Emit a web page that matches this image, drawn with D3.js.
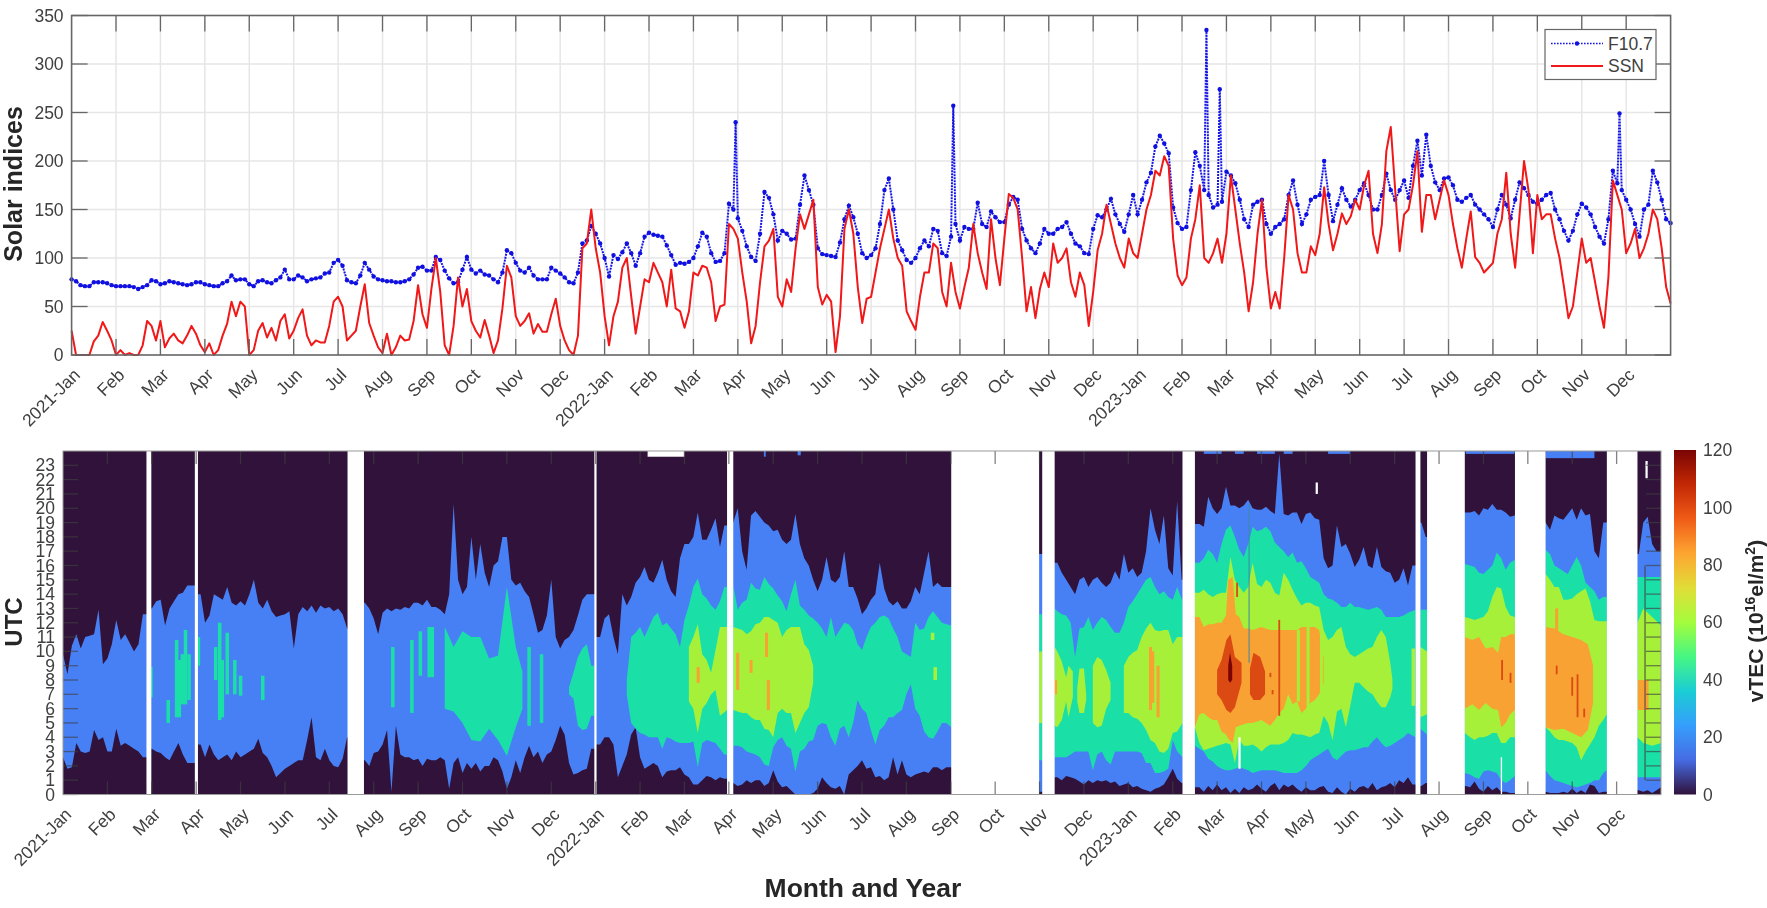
<!DOCTYPE html>
<html>
<head>
<meta charset="utf-8">
<script src="https://cdn.jsdelivr.net/npm/d3@7"></script>
<style>
body { margin: 0; background: #fff; }
svg { filter: blur(0.45px); }
text { font-family: "Liberation Sans", Arial, sans-serif; }
</style>
</head>
<body>
<svg id="chart" width="1767" height="908"></svg>
<script>
var monthLabels = ['2021-Jan','Feb','Mar','Apr','May','Jun','Jul','Aug','Sep','Oct','Nov','Dec',
	'2022-Jan','Feb','Mar','Apr','May','Jun','Jul','Aug','Sep','Oct','Nov','Dec',
	'2023-Jan','Feb','Mar','Apr','May','Jun','Jul','Aug','Sep','Oct','Nov','Dec'];
var solarTicks = [0,50,100,150,200,250,300,350];
var utcTicks = d3.range(0,24);
var vtecTicks = [0,20,40,60,80,100,120];

var f107 = [
78,76,72,71,71,75,75,75,74,72,
71,71,71,71,70,68,70,72,77,76,
73,74,76,75,74,73,72,73,75,75,
73,72,71,71,74,76,82,77,78,78,
73,71,76,77,75,74,77,80,88,78,
78,82,80,76,78,79,80,84,85,95,
98,92,77,75,74,82,95,88,81,78,
77,76,76,75,75,76,78,83,90,91,
87,87,101,98,87,79,74,75,88,101,
88,84,87,83,82,78,75,85,108,105,
95,87,85,90,82,78,78,78,90,87,
84,80,75,74,85,115,118,133,125,115,
100,81,103,99,106,115,105,92,105,122,
126,124,123,122,113,103,93,95,94,96,
100,112,126,122,105,96,97,105,156,150,
141,128,112,101,97,125,168,162,145,118,
128,125,119,120,155,185,170,155,110,104,
103,102,101,116,140,154,142,125,105,100,
103,110,135,170,182,150,118,108,98,95,
100,110,118,112,130,128,105,102,122,135,
118,132,130,130,157,135,132,148,142,137,
137,155,163,160,130,118,110,105,115,130,
125,125,130,132,137,125,115,112,105,104,
130,144,142,150,161,145,135,127,145,165,
145,160,178,188,215,226,218,208,152,136,
130,132,170,209,195,170,165,152,155,158,
189,185,177,160,140,132,155,158,160,135,
125,132,135,140,165,180,155,135,145,160,
163,165,200,165,138,155,172,160,153,160,
170,177,165,150,150,165,187,170,160,170,
180,162,195,221,185,227,195,178,170,182,
183,175,160,158,162,165,155,150,145,140,
132,150,165,155,141,160,178,172,165,158,
156,160,165,167,150,140,128,118,128,145,
156,152,145,132,122,115,140,190,177,170,
160,150,135,122,150,155,190,178,160,140,136];
var f107Spikes = [[14.95,240],[19.85,257],[25.55,335],[25.85,274],[34.85,249]];

var ssn = [
25,0,0,0,0,14,20,34,25,15,
0,5,0,2,0,0,10,35,30,15,
35,8,17,22,15,12,20,30,22,10,
3,12,0,5,20,32,55,40,55,50,
0,5,25,33,18,28,15,35,42,17,
25,38,47,20,10,15,13,13,30,55,
60,50,15,20,25,50,73,33,20,8,
2,22,0,8,20,15,16,35,72,42,
28,68,100,65,10,0,30,80,50,68,
35,25,18,36,20,2,15,48,92,80,
40,30,35,43,22,32,24,24,42,58,
30,15,5,0,20,110,115,150,110,85,
40,10,40,55,90,100,60,22,50,78,
75,95,85,75,50,88,48,45,28,45,
85,82,92,90,75,35,50,52,135,130,
120,85,55,12,30,75,112,118,130,60,
50,78,65,110,145,130,145,160,70,52,
62,55,3,40,130,150,125,70,33,58,
60,85,110,130,150,120,100,92,45,35,
26,60,85,85,115,110,65,50,95,65,
48,70,90,135,105,85,68,140,100,72,
120,166,162,150,100,45,70,38,68,85,
70,115,95,100,110,75,60,85,72,30,
65,108,125,155,135,115,100,90,120,105,
100,125,150,165,190,185,205,195,120,82,
72,80,120,140,175,100,95,105,120,95,
125,185,150,115,85,45,75,125,160,90,
48,65,48,100,165,150,105,85,85,112,
103,125,173,135,108,125,146,135,143,160,
150,175,190,125,105,135,210,235,170,107,
145,150,175,210,127,165,165,140,160,180,
165,135,110,90,120,148,101,95,85,90,
95,125,140,188,125,90,145,200,170,105,
165,140,145,145,120,100,70,38,50,85,
120,95,100,75,50,28,80,180,165,150,
105,115,130,100,110,125,150,140,110,70,53];

// upper and lower hour of the first contour, same tenths of a month
var blueHi = [
9.8,8.4,10.4,11.2,10.2,11,11.1,11.2,12.9,9.1,
9.5,10.5,12.2,10.8,11.2,10.6,10,10.5,12.6,null,
13,13.5,13.6,11.8,13,13.5,14,14.1,14.6,14.6,
null,14,12,12.5,14,13.8,13.6,14.5,13.4,13.2,
13.5,13.2,14,15,13.4,13,13.6,12.8,12.4,12.5,
12.6,12.8,10.2,12.6,13.1,12.8,13.2,12.7,13.2,13,
13.1,12.8,13,12.6,11.6,null,null,null,13.4,13,
12.3,11.2,12.7,13,12.8,13,12.9,13.1,13,13.4,
13.4,13.2,13.6,13.1,13.1,12.9,12.6,14,20.3,15,
14,14.5,18,15,17.5,15.5,14.5,16,16.3,18,
18,15,14.6,14.8,14.2,13.8,12.6,11.3,11.5,12.5,
15,11,10.2,10.8,11,11.5,12.5,13.6,14,14,
null,11,12.3,12.6,11,9.8,14,13.2,13.8,14.8,
15.2,15.9,15,14.8,15.5,16.4,15,14.2,13.8,16.5,
17.5,17.5,18,19.7,17.8,17.8,18.5,19.3,17.3,18.8,
null,19,20,17,15.7,19.5,19.8,19.4,19,18.8,
18.4,18.5,17.8,17.5,17.8,19.6,17.5,16.5,16,15,
14.2,15,16.6,15,14.8,15.2,17,14.5,14.5,13.7,
12.6,13,13.6,14,16.2,14.4,13.5,13.2,13.5,13,
13,13.5,14.5,14,15.5,17,14.5,14.8,14.5,14.5,
14.5,null,null,null,null,null,null,null,null,null,
null,null,null,null,null,null,null,null,null,null,
16.8,null,null,null,16.2,15.5,15,14.5,14,15,
15.2,14.5,15,15.2,14.8,14.5,14.8,15.6,15,16.8,
15.5,15.8,15.2,15.5,17,20,18.5,17.5,19.5,15.8,
15.3,20.5,15,null,null,null,18.9,18.7,20.8,20,
19.6,20,21.5,20.2,20.2,20,20.2,20.6,20,19.9,
19.9,20.1,19.8,19.6,23.8,19.6,19.5,19.7,19.7,18.9,
19.6,19.7,19.3,19.2,16.5,15.8,16,18.8,17.3,17.5,
16.8,15.9,16.4,17.3,16,15.8,17.3,15.9,15.6,15.5,
14.8,15,15.8,14.6,16,null,19,18,null,null,
null,null,null,null,null,null,19.7,19.7,19.8,19.5,
20,19.9,20.3,19.9,19.9,19.7,19.4,19.5,null,null,
null,null,null,null,19,18.5,19.5,19.3,19.2,19.6,
20,19.2,20,19.5,19.6,17,16.5,19,null,null,
null,null,null,null,null,16.8,19,19.4,17.5,17,17];
var blueLo = [
2.6,1.8,1.9,3.6,3,2.9,3,4.5,3.8,4,
3,3,4.6,3.4,3.6,3.4,3.2,3,2.6,null,
3.2,3,2.9,2.6,2.4,3,3.6,2.8,2.2,2.2,
null,3.5,2.6,3.5,2.8,2.4,2.6,2.8,2.4,3,
2.6,2.8,3,3.2,3.9,2.9,2.6,2,1.2,1.5,
1.8,2,2.2,2.4,2.4,3.8,5.4,2.6,2.4,3.2,
2.4,2,1.9,2.5,4,null,null,null,2.4,2,
2.9,3,3.5,4.5,.2,4.8,2.8,2.6,2.6,2.4,
2.5,2,2.5,2.4,2.4,2.6,2.4,.4,2.2,2.6,
1.5,2.2,1.8,2.2,1.6,2,2,2.6,2.4,1.6,
.4,1.2,2.4,1.5,2.6,3.4,2.6,3,2.2,2.8,
3,3.8,4.8,4.2,2.2,1.4,1.5,1.7,1.8,3.2,
null,3.5,4,4,3.5,1.2,2,2.8,4.2,4.7,
2.6,1.8,2,2.2,2,1.2,1.6,1.7,1.7,1.9,
1.4,1.2,.7,.7,1,1.3,1.2,1,1.2,1.1,
null,.8,.6,.7,1,.8,1,1,.6,.8,
1.7,.9,.5,.6,.3,0,0,0,0,.1,
.4,1.2,.8,.5,.4,.6,0,1.4,1.7,2,
2.4,1.8,1.9,1.2,1.3,1,1.2,2.6,1.4,2.4,
1.4,1.2,1.4,1.5,1.6,1.5,1.9,1.9,1.7,1.9,
1.9,null,null,null,null,null,null,null,null,null,
null,null,null,null,null,null,null,null,null,null,
.2,null,null,null,1.2,1,1.3,1.2,1.1,.9,
.7,1,.8,1,.9,1,.8,.9,.6,.7,
.8,.5,.6,.4,.3,.2,.4,.5,.7,1.2,
1.8,1.1,.8,null,null,null,.5,.2,.6,.3,
.7,.3,.5,.1,.4,.1,.5,.3,.4,.7,
.4,.2,.6,.8,.3,.7,.5,.7,.4,.2,
.5,.3,.3,.5,.6,.2,.1,.5,.2,0,
.4,.2,.5,.6,.4,.8,.3,.5,.6,.8,
.5,1,.8,1.2,.7,null,.6,.8,null,null,
null,null,null,null,null,null,.6,.5,.9,.4,
.2,.6,.3,.5,.2,.2,.1,.1,null,null,
null,null,null,null,.2,.1,.1,.1,.2,.1,
.4,.1,.3,.1,.7,.6,.1,.2,null,null,
null,null,null,null,null,.3,.2,.3,.1,.3,.5];

// higher contours as [month, upper hour, lower hour], null starts a new piece
var tealRows = [
[8.6,11.7,6],[8.8,10.3,5.8],[9,11.4,5],[9.2,11,3.8],[9.4,11,3.7],[9.6,9.5,4.6],[9.8,9.7,3.8],[10,14.5,2.7],[10.2,10.3,4.7],[10.35,8.6,6],null,
[11.4,7.5,7],[11.5,8.5,6.7],[11.6,9.6,4.8],[11.7,10.2,4.5],[11.8,10.5,4.6],[11.9,9,5.5],[11.97,9,5.5],null,
[12.7,8,7],[12.8,11,5],[12.9,11.3,4.6],[13,11.7,4.3],[13.1,11,4.2],[13.2,11.7,4],[13.3,12.4,4],[13.4,12.7,4],[13.5,11.8,3.2],[13.6,12,4],[13.7,11.6,3.9],[13.8,11.2,3.7],[13.9,10.3,3.6],
[14,12.2,3.6],[14.1,13.2,3.6],[14.2,14.5,3.7],[14.3,15.1,1.9],[14.4,14,3.6],[14.5,13.7,3.8],[14.6,13.2,3.7],[14.7,12.9,3.6],[14.8,13.5,3.2],[14.9,14.5,2.8],[14.96,14.5,2.8],null,
[15.1,14.6,3.4],[15.2,12.9,3.4],[15.3,13.4,3.3],[15.4,13.6,3],[15.5,14.8,2.9],[15.6,14.4,2.8],[15.7,14.3,2.6],[15.8,15.2,2.1],[15.9,14.7,2],
[16,14.4,3.3],[16.1,13.9,3.8],[16.2,13.5,4],[16.3,12.8,3.4],[16.4,14,3.2],[16.5,15,1.6],[16.6,13.2,3],[16.7,12.9,3.2],[16.8,12.5,3.7],[16.9,12.3,3.8],
[17,12,4.8],[17.1,11.6,5],[17.2,11,4.9],[17.3,12.4,4],[17.4,11,3.4],[17.5,11.5,4.6],[17.6,12,4.8],[17.7,11.9,4],[17.8,11.5,5],[17.9,10.5,6.6],
[18,10.1,6],[18.1,11,5.7],[18.2,11.7,4.5],[18.3,12,3.5],[18.4,12.4,4.5],[18.5,12.5,4.8],[18.6,12.3,5.4],[18.7,11.6,5.4],[18.8,11,5.7],[18.9,10,5.9],
[19,9.8,7],[19.1,9.6,7.7],[19.2,12,6],[19.3,11.5,5.5],[19.4,11.6,4.4],[19.5,12.4,4],[19.6,12.8,3.9],[19.7,12.4,4.4],[19.8,12,5],[19.9,11.9,5],[20.01,11.8,4.7],null,
[21.99,12.6,2.4],[22.06,12.6,2.4],null,
[22.34,13,2.6],[22.4,12.8,2.6],[22.5,12.6,2.6],[22.6,12.5,2.6],[22.7,12,2.8],[22.8,9.6,3],[22.9,11.6,3],[23,11.7,3],[23.1,12.4,3],[23.2,11.5,1.7],[23.3,12,2.8],[23.4,12.4,3],[23.5,12.2,2.4],[23.6,11.7,2.1],[23.7,11.3,3],[23.8,11.3,3],[23.9,12,3],
[24,13.1,3],[24.1,13.5,3],[24.2,14,3],[24.3,14.5,2.9],[24.4,15,2.2],[24.5,15.2,2.2],[24.6,14.5,1.5],[24.7,14,1.5],[24.8,14.2,1.6],[24.9,13.8,1.8],[25,13.6,3.8],[25.1,14.5,3],[25.22,13.5,2.6],null,
[25.5,16.2,3.4],[25.6,16.2,3.2],[25.7,16.5,3],[25.8,17.1,2.5],[25.9,16.8,2.3],[26,16.2,2],[26.1,17.5,1.8],[26.2,18.5,1.7],[26.3,18.8,1.7],[26.4,18,1.8],[26.5,17.1,1.9],[26.6,16.6,1.8],[26.7,17.5,1.7],[26.8,18.7,1.5],[26.9,18.4,1.6],
[27,18.5,1.7],[27.1,18.7,1.7],[27.2,18.4,1.7],[27.3,17.6,1.7],[27.4,17.3,1.6],[27.5,17,1.5],[27.6,16.6,1.5],[27.7,16.9,1.5],[27.8,16.2,1.5],[27.9,16.3,1.7],
[28,15.8,2],[28.1,15.2,2.4],[28.2,15,2.6],[28.3,14.8,2.8],[28.4,14,3],[28.5,13.7,3.2],[28.6,13.6,2.6],[28.7,13.4,2.4],[28.8,13.1,2.7],[28.9,13.1,3],
[29,13.4,3.1],[29.1,13.1,3.1],[29.2,13.1,3.2],[29.3,13,3.3],[29.4,12.9,3.3],[29.5,13,3.7],[29.6,13.1,4],[29.7,12.9,3.6],[29.8,12.4,3.3],[29.9,12.4,3.4],
[30,12.4,3.6],[30.1,12.4,3.8],[30.2,12.5,4],[30.3,12.7,4.3],[30.47,12.9,4],null,
[30.58,12.9,4.6],[30.73,12.9,4.2],null,
[31.58,16.1,1.5],[31.7,16,1.4],[31.8,15.9,1.2],[31.9,15.5,1.1],[32,15.4,1.6],[32.1,15.7,1.7],[32.2,16,1.6],[32.3,16.9,1.5],[32.4,16.5,1],[32.5,15.7,.8],[32.6,16.2,1],[32.71,16.4,1.3],null,
[33.4,17.1,1.7],[33.5,16.8,1.3],[33.6,16,1],[33.7,15.8,.9],[33.8,15.6,.8],[33.9,15.4,.7],[34,16,.6],[34.1,16.6,.5],[34.2,16,.6],[34.3,14.8,.7],[34.4,14.5,.8],[34.5,14.2,1],[34.6,13.6,1],[34.7,13.8,1.5],[34.78,13.8,1.7],null,
[35.47,15.2,1.2],[36,15.2,1.2]];
var tealPatches = [[1.98,8.9,6.8],[2.37,6.6,5],[2.56,10.8,5.4],[2.62,9.4,5.4],[2.69,9.8,6.3],[2.76,11.5,6.3],[2.84,9.8,6.6],[3.05,11,9],[3.44,10.3,8],[3.53,12,5.2],[3.59,9.4,5.4],[3.7,11.3,7],[3.87,9.4,7],[4,8.3,6.9],[4.5,8.3,6.6],[7.43,10.3,6.1],[7.86,10.8,5.7],[8.05,11.4,8.3],[8.25,11.7,8.2],[8.32,11.7,8.2],[10.5,10.3,4.8],[10.78,9.8,5]];
var yellowRows = [
[14.1,10.3,6.5],[14.2,11,6],[14.3,11.9,4.3],[14.4,9.8,6],[14.5,9.4,6.4],[14.6,8.5,7],[14.7,10.1,7.3],[14.8,11.7,5.5],[14.96,11.7,5.9],null,
[15.1,11.7,5.9],[15.2,11.6,5.8],[15.3,11.5,5.7],[15.4,11.2,5.7],[15.5,11.4,5.4],[15.6,11.9,5.2],[15.7,12,5.2],[15.8,12.4,4.6],[15.9,12.4,4.5],[16,12.2,4],[16.1,12,5.7],[16.2,11,6],[16.3,11.5,5.7],[16.4,11.7,5.7],[16.5,11.7,4.3],[16.6,11.7,5],[16.7,10.5,5.7],[16.8,10.1,6.1],[16.9,9,7.8],null,
[21.99,10,5],[22.06,10,5],null,
[22.34,10.3,4.8],[22.4,10,4.7],[22.5,9.3,5.2],[22.6,8.2,6.5],[22.65,9,5.4],[22.75,8.6,6.8],null,
[22.85,7.5,6.5],[22.9,8.8,5.7],[23,8.8,5.7],[23.05,7,6.6],null,
[23.2,9,5],[23.3,9.6,4.7],[23.4,9.4,4.8],[23.5,8.7,6],[23.6,7.8,6.6],null,
[23.9,9,5.7],[24,9.6,5.7],[24.1,9.9,5.4],[24.2,10.1,5.3],[24.3,11,5],[24.4,11.6,4.5],[24.5,12,3.8],[24.6,11.5,3.6],[24.7,11.4,3],[24.8,11.5,2.9],[24.9,11.5,3.2],[25,10.5,4.3],[25.1,11,4.4],[25.22,11,5],null,
[25.5,14.1,4.7],[25.6,14.1,3.6],[25.7,14.3,3.1],[25.8,14,3.2],[25.9,13.8,3.3],[26,14,3.4],[26.1,14.1,3.5],[26.2,14.1,3.6],[26.3,16.6,3.5],[26.4,15,2.2],[26.5,14.5,3.8],[26.6,14.1,3.4],[26.7,14.5,3.4],[26.8,16.2,3.5],[26.9,14.7,3.3],
[27,14.5,3],[27.1,15,3.3],[27.2,14.8,3.5],[27.3,14.1,3.5],[27.4,13.9,3.5],[27.5,15.5,3.6],[27.6,15,3.8],[27.7,14.3,4.3],[27.8,13.7,4.2],[27.9,13.2,4.2],
[28,13.4,4.1],[28.1,13.4,4],[28.2,13.2,4.2],[28.3,13.1,4.3],[28.4,11.5,5.5],[28.5,10.8,5],[28.6,11,3.8],[28.7,11.5,5.8],[28.8,11.7,6],[28.9,10.3,4.7],
[29,9.8,6.2],[29.1,9.6,7.8],[29.2,9.8,7.8],[29.3,10,7.5],[29.4,10.2,7.2],[29.5,10.3,7],[29.6,11,6.5],[29.7,11.5,6.1],[29.8,11,6.1],[29.9,9.2,6.8],[29.95,8,7.4],null,
[30.58,10.3,5.4],[30.73,10,5.6],null,
[31.58,12.4,4.3],[31.7,12.3,4],[31.8,12.2,3.8],[31.9,12.3,4],[32,12.4,4],[32.1,12.8,4.1],[32.2,13.8,4.3],[32.3,14.5,4.3],[32.4,14.4,3.6],[32.5,13.1,3.6],[32.6,12.5,4],[32.71,12.4,4],null,
[33.4,15.4,4.7],[33.5,15,4.4],[33.6,14.5,4],[33.7,14.5,3.8],[33.8,13.6,3.8],[33.9,13.6,3.7],[34,13.7,3.6],[34.1,14,3.3],[34.2,14.2,2.4],[34.3,14.4,3],[34.4,13.5,3.5],[34.5,12.2,4],[34.6,12.1,4.8],[34.7,12.1,5.2],[34.78,12.1,5.6],null,
[35.47,12,4],[35.6,13,3.6],[35.8,12.4,3.4],[36,11.8,3.6]];
var yellowPatches = [[19.59,11.3,10.8],[19.65,8.9,8],[30.42,10.2,6.2]];
var orangeRows = [
[25.5,12.4,4.7],[25.6,12.4,5.6],[25.7,11.7,5.7],[25.8,11.9,5.4],[25.9,11.9,5.2],[26,12,5.2],[26.1,12,4.4],[26.2,12.5,4.2],[26.25,15,3.9],[26.35,15.2,3.6],[26.42,12.6,4.7],[26.5,12.4,4.8],[26.6,11.6,4.9],[26.7,11.6,5],[26.8,11.5,5],[26.9,11.6,5.1],
[27,11.7,5.2],[27.1,11.6,5],[27.2,11.5,4.8],[27.3,11.5,5.2],[27.4,11.5,5.7],[27.5,11.5,6],[27.6,11.5,7],[27.7,11.5,6.3],[27.8,11.5,6.5],[27.9,11.7,5.7],
[28,11.7,6],[28.1,11.7,6.4],[28.2,11.7,6.6],[28.3,11.5,7],[28.4,9.5,7.8],null,
[31.58,11,6],[31.75,10.8,6.3],[31.9,11,5.9],[32.05,10.2,6.4],[32.2,10.3,6],[32.33,9.9,5.9],[32.4,11,4.7],[32.5,11,5],[32.6,11.2,5.6],[32.71,11.2,5.9],null,
[33.4,11.7,4.7],[33.6,11.6,4.5],[33.8,11.2,4.6],[34,11,4.3],[34.2,10.8,4],[34.35,10.5,4.5],[34.47,9,6.4],null,
[35.47,8,5.9],[35.72,8,5.9]];
var orangePatches = [[14.31,8.9,7.8],[15.2,9.9,7.3],[15.5,9.4,8.5],[15.85,11.3,9.6],[15.89,8,5.9],[22.36,8,7],[24.5,10.3,5.9],[24.55,10,6.4],[24.67,9,5.4],[33.65,13,8]];
var yellowOverOrange = [[27.83,11.5,6.5],[28.05,11.7,6],[28.35,11.5,7]];
var redRows = [
[26,8.7,7],[26.1,9.4,6.6],[26.21,10.8,5.9],[26.3,11.2,5.7],[26.4,9.6,6.1],[26.55,9.2,7.8],null,
[26.74,8.8,7],[26.82,9.9,6.6],[26.97,9.6,6.6],[27.08,8.6,7]];
var redPatches = [[27.4,12.2,5.5],[26.45,14.8,13.8],[27.2,8.5,8.2],[27.25,7.3,7],[32.42,9.4,8],[32.61,8.5,7.8],[33.65,9,8.4],[34,8.2,6.9],[34.12,8.4,5.4],[34.27,6,5.4]];
var darkRows = [[26.25,9,8],[26.29,9.9,7.8],[26.34,9,8]];
var thinBlue = [[26.72,20.3,9.2]];

var dataGaps = [[1.88,1.99],[2.97,3.04],[6.41,6.78],[11.97,12.02],[14.96,15.1],[20.01,21.99],[22.06,22.34],[25.22,25.5],[30.47,30.58],[30.73,31.58],[32.71,33.4],[34.78,35.47]];
var missingCells = [[13.17,14,23.6,24],[28.22,28.27,21,21.8],[26.48,26.53,1.8,4],[35.65,35.7,22.1,23.3],[32.39,32.42,0,2.6]];
var topFringe = [[15.79,15.83,23.6],[16.55,16.62,23.7],[25.7,26.1,23.8],[26.4,26.6,23.8],[26.9,27.3,23.8],[27.5,27.7,23.8],[28.5,29,23.8],[31.6,32.7,23.8],[33.4,34.5,23.5]];
var strayFrame = [[35.64,16,1]];

var levelColors = {base:'#30123b', blue:'#4780f5', teal:'#1ae0a8', yellow:'#a6f03a', orange:'#f8a233', red:'#db4a13', dark:'#7a0403'};
var turboStops = ['#30123b','#466be3','#369efc','#1acdd4','#46f783','#a4fc3c','#e1dd37','#fda531','#f05c17','#c32805','#7a0403'];

var svg = d3.select('#chart'),
	topM = {left: 71.6, right: 1670.6, top: 15.5, bottom: 355},
	botM = {left: 63, right: 1661, top: 451, bottom: 794.5},
	cb = {left: 1674, right: 1696, top: 450, bottom: 794.5},
	textColor = '#404040',
	axisColor = '#666';

var xTop = d3.scaleLinear().domain([0,36]).range([topM.left, topM.right]),
	yTop = d3.scaleLinear().domain([0,350]).range([topM.bottom, topM.top]),
	xBot = d3.scaleLinear().domain([0,36]).range([botM.left, botM.right]),
	yBot = d3.scaleLinear().domain([0,24]).range([botM.bottom, botM.top]),
	yCb = d3.scaleLinear().domain([0,120]).range([cb.bottom, cb.top]);

// ---- solar indices panel
var grid = svg.append('g').attr('class','grid');
grid.selectAll('.gx').data(d3.range(1,36)).enter().append('line')
	.attr('x1', function(d){ return xTop(d); }).attr('x2', function(d){ return xTop(d); })
	.attr('y1', topM.top).attr('y2', topM.bottom);
grid.selectAll('.gy').data(solarTicks.slice(1,-1)).enter().append('line')
	.attr('x1', topM.left).attr('x2', topM.right)
	.attr('y1', function(d){ return yTop(d); }).attr('y2', function(d){ return yTop(d); });
grid.selectAll('line').attr('stroke','#e6e6e6').attr('stroke-width',1.5);

var f107Points = f107.map(function(v,i){ return {t:i/10, v:v}; });
var f107Line = f107Points.concat(f107Spikes.map(function(d){ return {t:d[0], v:d[1]}; }))
	.sort(function(a,b){ return a.t-b.t; });
var ssnPoints = ssn.map(function(v,i){ return {t:i/10, v:v}; });

var seriesLine = d3.line()
	.x(function(d){ return xTop(d.t); })
	.y(function(d){ return yTop(d.v); });

svg.append('path').datum(f107Line)
	.attr('d', seriesLine)
	.attr('fill','none').attr('stroke','#1414e6').attr('stroke-width',2).attr('stroke-dasharray','2 1');
svg.append('g').selectAll('circle').data(f107Line).enter().append('circle')
	.attr('cx', function(d){ return xTop(d.t); })
	.attr('cy', function(d){ return yTop(d.v); })
	.attr('r',2.2).attr('fill','#1010e0');
svg.append('path').datum(ssnPoints)
	.attr('d', seriesLine)
	.attr('fill','none').attr('stroke','#f01818').attr('stroke-width',2).attr('stroke-linejoin','round');

function styleAxis(g) {
	g.select('.domain').remove();
	g.selectAll('text').attr('fill', textColor).attr('font-size','17.5px');
}
function monthAxis(g, scale, y, tickX) {
	g.attr('transform','translate(0,'+y+')')
		.call(d3.axisBottom(scale).tickValues(d3.range(0,36)).tickSize(0).tickFormat(function(d){ return monthLabels[d]; }))
		.call(styleAxis);
	g.selectAll('text')
		.attr('text-anchor','end')
		.attr('dx',0).attr('dy',0).attr('y',0)
		.attr('transform','translate('+tickX+',21) rotate(-45)');
}
svg.append('g').call(monthAxis, xTop, topM.bottom, 9);
svg.append('g').attr('transform','translate('+topM.left+',0)')
	.call(d3.axisLeft(yTop).tickValues(solarTicks).tickSize(0).tickPadding(8))
	.call(styleAxis);

function panelTicks(m, xs, ys, lenX, lenY, col, op) {
	var g = svg.append('g').attr('stroke',col).attr('stroke-width',1.3).attr('opacity',op);
	[[m.top,lenX],[m.bottom,-lenX]].forEach(function(e){
		g.selectAll(null).data(d3.range(1,36)).enter().append('line')
			.attr('x1', function(d){ return xs(d); }).attr('x2', function(d){ return xs(d); })
			.attr('y1', e[0]).attr('y2', e[0]+e[1]);
	});
	[[m.left,lenY],[m.right,-lenY]].forEach(function(e){
		g.selectAll(null).data(ys.domain()[1]==350 ? solarTicks : utcTicks).enter().append('line')
			.attr('y1', function(d){ return ys(d); }).attr('y2', function(d){ return ys(d); })
			.attr('x1', e[0]).attr('x2', e[0]+e[1]);
	});
}
panelTicks(topM, xTop, yTop, 16, 16, axisColor, 1);
svg.append('rect')
	.attr('x',topM.left).attr('y',topM.top)
	.attr('width',topM.right-topM.left).attr('height',topM.bottom-topM.top)
	.attr('fill','none').attr('stroke',axisColor).attr('stroke-width',1.6);

// legend
var legend = svg.append('g');
legend.append('rect').attr('x',1545).attr('y',29.5).attr('width',111).attr('height',50)
	.attr('fill','#fff').attr('stroke',axisColor).attr('stroke-width',1.2);
legend.append('line').attr('x1',1551).attr('x2',1603).attr('y1',43.5).attr('y2',43.5)
	.attr('stroke','#1414e6').attr('stroke-width',1.6).attr('stroke-dasharray','1.6 1.4');
legend.append('circle').attr('cx',1577).attr('cy',43.5).attr('r',2.2).attr('fill','#1010e0');
legend.append('line').attr('x1',1551).attr('x2',1603).attr('y1',66).attr('y2',66)
	.attr('stroke','#f01818').attr('stroke-width',1.8);
legend.selectAll('.lab').data([['F10.7',49.5],['SSN',72]]).enter().append('text')
	.text(function(d){ return d[0]; })
	.attr('x',1608).attr('y',function(d){ return d[1]; })
	.attr('font-size','17.5px').attr('fill',textColor);

// ---- vTEC panel, nested contour bands over the dark base
var chartArea = d3.area()
	.defined(function(d){ return d != null; })
	.x(function(d){ return xBot(d[0]); })
	.y0(function(d){ return yBot(d[2]); })
	.y1(function(d){ return yBot(d[1]); });

// samples inside a gap are null, carry the neighbours to the gap so no base shows beside it
function gridRows(hi, lo) {
	var rows = [];
	hi.forEach(function(h,i){
		var t = i/10;
		if (h != null) { rows.push([t,h,lo[i]]); return; }
		if (i > 0 && hi[i-1] != null) rows.push([t,hi[i-1],lo[i-1]]);
		rows.push(null);
		if (i < hi.length-1 && hi[i+1] != null) rows.push([t,hi[i+1],lo[i+1]]);
	});
	return rows;
}
function drawBand(rows, color) {
	svg.append('path').datum(rows).attr('d', chartArea).attr('fill', color);
}
function drawPatches(list, color, w) {
	svg.append('g').selectAll('rect').data(list).enter().append('rect')
		.attr('x', function(d){ return xBot(d[0])-w/2; })
		.attr('width', w)
		.attr('y', function(d){ return yBot(d[1]); })
		.attr('height', function(d){ return yBot(d[2])-yBot(d[1]); })
		.attr('fill', color);
}

svg.append('rect').attr('x',botM.left).attr('y',botM.top)
	.attr('width',botM.right-botM.left).attr('height',botM.bottom-botM.top)
	.attr('fill',levelColors.base);
drawBand(gridRows(blueHi, blueLo), levelColors.blue);
svg.append('g').selectAll('rect').data(topFringe).enter().append('rect')
	.attr('x', function(d){ return xBot(d[0]); })
	.attr('width', function(d){ return xBot(d[1])-xBot(d[0]); })
	.attr('y', botM.top)
	.attr('height', function(d){ return yBot(d[2])-botM.top; })
	.attr('fill', levelColors.blue);
drawBand(tealRows, levelColors.teal);
drawPatches(tealPatches, levelColors.teal, 3.5);
drawBand(yellowRows, levelColors.yellow);
drawPatches(yellowPatches, levelColors.yellow, 3.5);
drawBand(orangeRows, levelColors.orange);
drawPatches(orangePatches, levelColors.orange, 3);
drawPatches(yellowOverOrange, levelColors.yellow, 3);
drawBand(redRows, levelColors.red);
drawPatches(redPatches, levelColors.red, 1.8);
drawBand(darkRows, levelColors.dark);
drawPatches(thinBlue, '#3f86a8', 1);

svg.append('g').selectAll('rect').data(dataGaps).enter().append('rect')
	.attr('x', function(d){ return xBot(d[0]); })
	.attr('width', function(d){ return xBot(d[1])-xBot(d[0]); })
	.attr('y', botM.top).attr('height', botM.bottom-botM.top)
	.attr('fill','#fff');
svg.append('g').selectAll('rect').data(missingCells).enter().append('rect')
	.attr('x', function(d){ return xBot(d[0]); })
	.attr('width', function(d){ return xBot(d[1])-xBot(d[0]); })
	.attr('y', function(d){ return yBot(d[3]); })
	.attr('height', function(d){ return yBot(d[2])-yBot(d[3]); })
	.attr('fill','#fff');

panelTicks(botM, xBot, yBot, 13, 15, '#404040', 0.65);
drawPatches(strayFrame, '#404040', 1);
svg.append('rect')
	.attr('x',botM.left).attr('y',botM.top)
	.attr('width',botM.right-botM.left).attr('height',botM.bottom-botM.top)
	.attr('fill','none').attr('stroke','#9a9a9a').attr('stroke-width',1);

svg.append('g').call(monthAxis, xBot, botM.bottom, 9);
svg.append('g').attr('transform','translate('+botM.left+',0)')
	.call(d3.axisLeft(yBot).tickValues(utcTicks).tickSize(0).tickPadding(8))
	.call(styleAxis);

// ---- colorbar
var grad = svg.append('defs').append('linearGradient').attr('id','turbo')
	.attr('x1',0).attr('x2',0).attr('y1',1).attr('y2',0);
grad.selectAll('stop').data(turboStops).enter().append('stop')
	.attr('offset', function(d,i){ return i/(turboStops.length-1); })
	.attr('stop-color', function(d){ return d; });
svg.append('rect').attr('x',cb.left).attr('y',cb.top)
	.attr('width',cb.right-cb.left).attr('height',cb.bottom-cb.top)
	.attr('fill','url(#turbo)');
svg.append('g').attr('transform','translate('+cb.right+',0)')
	.call(d3.axisRight(yCb).tickValues(vtecTicks).tickSize(0).tickPadding(7))
	.call(styleAxis);

// ---- axis titles
svg.append('text').text('Solar indices')
	.attr('transform','translate(22,184) rotate(-90)')
	.attr('text-anchor','middle').attr('font-weight','bold').attr('font-size','25px').attr('fill','#262626');
svg.append('text').text('UTC')
	.attr('transform','translate(22,622) rotate(-90)')
	.attr('text-anchor','middle').attr('font-weight','bold').attr('font-size','24px').attr('fill','#262626');
svg.append('text').text('Month and Year')
	.attr('x',863).attr('y',897)
	.attr('text-anchor','middle').attr('font-weight','bold').attr('font-size','26.5px').attr('fill','#262626');
var vtec = svg.append('text')
	.attr('transform','translate(1763,621) rotate(-90)')
	.attr('text-anchor','middle').attr('font-weight','bold').attr('font-size','21px').attr('fill','#262626');
vtec.append('tspan').text('vTEC (10');
vtec.append('tspan').text('16').attr('dy',-8).attr('font-size','14px');
vtec.append('tspan').text('el/m').attr('dy',8);
vtec.append('tspan').text('2').attr('dy',-8).attr('font-size','14px');
vtec.append('tspan').text(')').attr('dy',8);
</script>
</body>
</html>
